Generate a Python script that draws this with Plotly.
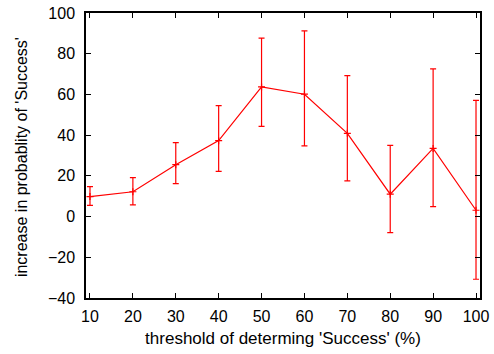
import plotly.graph_objects as go

# Threshold (%) and measured increase, with asymmetric error bars
thresholds = [10, 20, 30, 40, 50, 60, 70, 80, 90, 100]
increase = [9.8, 12.2, 25.5, 37.3, 63.7, 60.1, 40.9, 11.0, 33.5, 3.1]
err_plus = [4.9, 6.9, 10.8, 17.2, 24.0, 31.1, 28.3, 24.0, 39.1, 54.0]
err_minus = [4.3, 6.5, 9.3, 15.1, 19.4, 25.4, 23.4, 18.9, 28.6, 33.9]

x_ticks = [10, 20, 30, 40, 50, 60, 70, 80, 90, 100]
y_ticks = [-40, -20, 0, 20, 40, 60, 80, 100]

fig = go.Figure()
fig.add_trace(go.Scatter(
    x=thresholds,
    y=increase,
    mode="lines+markers",
    line=dict(color="#ff0000", width=1.2),
    marker=dict(symbol="cross-thin", size=5, color="#ff0000",
                line=dict(color="#ff0000", width=1.2)),
    error_y=dict(type="data", symmetric=False, array=err_plus,
                 arrayminus=err_minus, color="#ff0000", thickness=1.2,
                 width=3),
    showlegend=False,
))

family = "Liberation Sans, Arial, sans-serif"
tick_font = dict(family=family, size=16, color="#000000")
xtitle_font = dict(family=family, size=17, color="#000000")
ytitle_font = dict(family=family, size=16, color="#000000")

fig.update_layout(
    width=494, height=354,
    margin=dict(l=86, r=14, t=13, b=56),
    paper_bgcolor="white", plot_bgcolor="white",
    font=tick_font,
    xaxis=dict(
        range=[9.07, 100.93], tickvals=x_ticks, tickfont=tick_font,
        ticks="inside", ticklen=5, tickwidth=1, tickcolor="black",
        ticklabelstandoff=3, automargin=False,
        showline=True, linecolor="black", linewidth=1.5, mirror="ticks",
        showgrid=False, zeroline=False,
        title=dict(text="threshold of determing 'Success' (%)",
                   font=xtitle_font, standoff=8),
    ),
    yaxis=dict(
        range=[-40, 100], tickvals=y_ticks, tickfont=tick_font,
        ticks="inside", ticklen=5, tickwidth=1, tickcolor="black",
        ticklabelstandoff=6, automargin=False,
        showline=True, linecolor="black", linewidth=1.5, mirror="ticks",
        showgrid=False, zeroline=False,
    ),
    annotations=[dict(
        text="increase in probablity of 'Success'",
        xref="paper", yref="paper", x=-0.162, y=0.495,
        xanchor="center", yanchor="middle", textangle=-90,
        showarrow=False, font=ytitle_font,
    )],
)

fig.write_html("out.html")
